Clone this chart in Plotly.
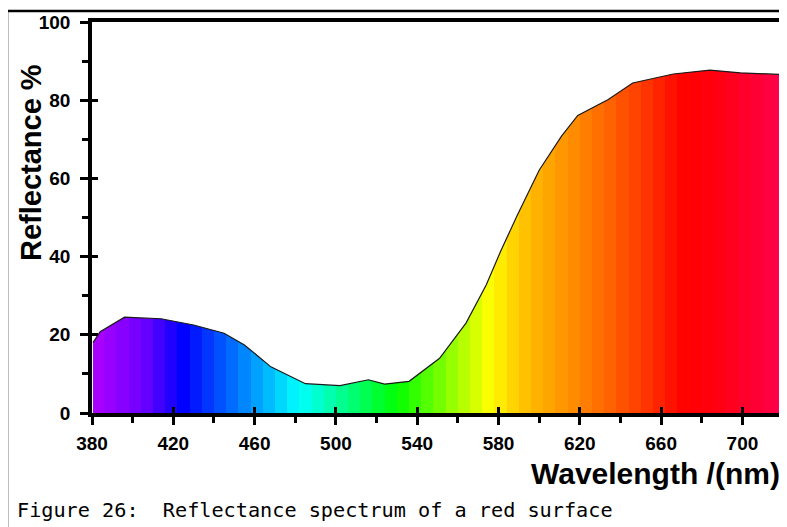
import plotly.graph_objects as go

# ---------------- data ----------------
wavelength = [380.5, 384, 396, 414, 430, 445, 455, 468, 485, 502, 516, 524, 536,
              551, 564, 574, 581, 589, 600, 611, 619, 634, 646, 666, 684, 699, 718]
reflectance = [18.0, 20.8, 24.5, 24.1, 22.5, 20.4, 17.4, 11.8, 7.5, 7.0, 8.5, 7.4, 8.1,
               14.0, 23.0, 32.8, 41.3, 50.3, 62.1, 70.8, 76.1, 80.2, 84.4, 86.7, 87.7, 87.0, 86.6]
x_major = [380, 420, 460, 500, 540, 580, 620, 660, 700]
x_minor = [400, 440, 480, 520, 560, 600, 640, 680]
y_major = [0, 20, 40, 60, 80, 100]
y_minor = [10, 30, 50, 70, 90]
x_title = "Wavelength /(nm)"
y_title = "Reflectance %"
caption = "Figure 26:  Reflectance spectrum of a red surface"

# spectral colour anchors (style)
spec_nm = [380, 405, 425, 482, 530, 576, 590, 605, 630, 650, 672, 690, 718]
spec_rgb = [(175, 0, 255), (110, 0, 255), (0, 0, 255), (0, 255, 255), (0, 255, 0),
            (255, 255, 0), (255, 200, 0), (255, 165, 0), (255, 110, 0), (255, 60, 0),
            (255, 0, 0), (255, 0, 20), (255, 0, 75)]

# ---------------- layout geometry ----------------
# the page body has an 8px margin, so the figure is drawn 8px right/down
OFF = 8
W, H = 787 - OFF, 527 - OFF
L, R, T, B = 92 - OFF, 8, 22 - OFF, 114
pw, ph = W - L - R, H - T - B
X0, X1 = 380, 718
G0, G1 = 380, 720


def px2paper_x(px):
    return (px - OFF - L) / pw


def px2paper_y(py):
    return (H - B - (py - OFF)) / ph


def spec_color(nm):
    for i in range(len(spec_nm) - 1):
        a, b = spec_nm[i], spec_nm[i + 1]
        if a <= nm <= b:
            t = (nm - a) / (b - a)
            c = [round(spec_rgb[i][k] + t * (spec_rgb[i + 1][k] - spec_rgb[i][k])) for k in range(3)]
            return "rgb(%d,%d,%d)" % tuple(c)
    c = spec_rgb[0] if nm < spec_nm[0] else spec_rgb[-1]
    return "rgb(%d,%d,%d)" % c


# stepped colourscale (6 nm bands)
band = 6
scale = []
edge = G0
while edge < G1:
    nxt = min(edge + band, G1)
    col = spec_color((edge + nxt) / 2)
    scale.append([(edge - G0) / (G1 - G0), col])
    scale.append([(nxt - G0) / (G1 - G0), col])
    edge = nxt

bold = dict(family="Liberation Sans, Arial, sans-serif", color="black", weight="bold")

fig = go.Figure()
fig.add_trace(go.Scatter(
    x=wavelength, y=reflectance, mode="lines",
    line=dict(color="#1a1a1a", width=1.2),
    fill="tozeroy",
    fillgradient=dict(type="horizontal", colorscale=scale, start=G0, stop=G1),
    showlegend=False, hoverinfo="skip",
))
# invisible trace on overlay axes that carry the inward half of major ticks
fig.add_trace(go.Scatter(
    x=wavelength, y=reflectance, mode="lines", opacity=0,
    xaxis="x2", yaxis="y2", showlegend=False, hoverinfo="skip",
))

axis_common = dict(showgrid=False, zeroline=False)
fig.update_layout(
    width=W, height=H,
    margin=dict(l=L, r=R, t=T, b=B, autoexpand=False),
    paper_bgcolor="white", plot_bgcolor="white",
    xaxis=dict(range=[X0, X1], tickmode="array", tickvals=x_major,
               ticks="outside", ticklen=8, tickwidth=3, tickcolor="black",
               showline=True, linewidth=3.5, linecolor="black", mirror=True,
               tickfont=dict(size=19, **bold), ticklabelstandoff=2,
               minor=dict(tickmode="array", tickvals=x_minor, ticks="outside",
                          ticklen=6, tickwidth=3, tickcolor="black"),
               **axis_common),
    yaxis=dict(range=[0, 100], tickmode="array", tickvals=y_major,
               ticks="outside", ticklen=8, tickwidth=3, tickcolor="black",
               showline=True, linewidth=3.5, linecolor="black", mirror=True,
               tickfont=dict(size=19, **bold), ticklabelstandoff=6,
               minor=dict(tickmode="array", tickvals=y_minor, ticks="outside",
                          ticklen=6, tickwidth=3, tickcolor="black"),
               **axis_common),
    xaxis2=dict(range=[X0, X1], overlaying="x", anchor="y2", tickmode="array",
                tickvals=x_major, ticks="inside", ticklen=6, tickwidth=3,
                tickcolor="black", showticklabels=False, showline=False, **axis_common),
    yaxis2=dict(range=[0, 100], overlaying="y", anchor="x2", tickmode="array",
                tickvals=y_major, ticks="inside", ticklen=6, tickwidth=3,
                tickcolor="black", showticklabels=False, showline=False, **axis_common),
    annotations=[
        dict(text=y_title, textangle=-90, xref="paper", yref="paper",
             x=px2paper_x(31), y=px2paper_y(163), xanchor="center", yanchor="middle",
             showarrow=False, font=dict(size=29, **bold)),
        dict(text=x_title, xref="paper", yref="paper",
             x=px2paper_x(782), y=px2paper_y(474), xanchor="right", yanchor="middle",
             showarrow=False, font=dict(size=30, **bold)),
        dict(text=caption, xref="paper", yref="paper",
             x=px2paper_x(15), y=px2paper_y(510), xanchor="left", yanchor="middle",
             showarrow=False,
             font=dict(size=20.2, family="DejaVu Sans Mono, monospace", color="black")),
    ],
    shapes=[
        dict(type="rect", xref="paper", yref="paper",
             x0=px2paper_x(7), x1=px2paper_x(800),
             y0=px2paper_y(540), y1=px2paper_y(11),
             line=dict(color="black", width=2.5), fillcolor="rgba(0,0,0,0)", layer="below"),
    ],
)

fig.write_html("out.html")
